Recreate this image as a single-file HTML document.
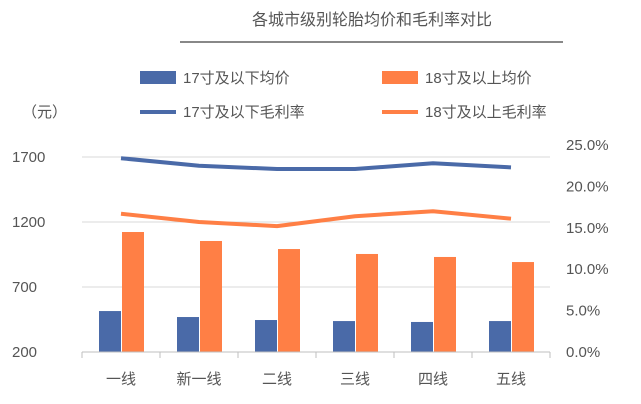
<!DOCTYPE html>
<html><head><meta charset="utf-8"><style>
html,body{margin:0;padding:0;background:#fff;}
svg{display:block;font-family:"Liberation Sans","Noto Sans CJK SC",sans-serif;}
</style></head><body>
<svg id="c" width="641" height="404" viewBox="0 0 641 404">
<rect width="641" height="404" fill="#fff"/>
<text x="372" y="25" text-anchor="middle" font-size="16" fill="#555">各城市级别轮胎均价和毛利率对比</text>
<line x1="180" y1="42" x2="563" y2="42" stroke="#888" stroke-width="2"/>
<g>
<rect x="140" y="71" width="36" height="13" fill="#4a6aa8"/>
<text x="183" y="83" font-size="15" fill="#555">17寸及以下均价</text>
<rect x="382" y="71" width="36" height="13" fill="#ff7f45"/>
<text x="425" y="83" font-size="15" fill="#555">18寸及以上均价</text>
<line x1="140" y1="112" x2="176" y2="112" stroke="#4a6aa8" stroke-width="4"/>
<text x="183" y="117" font-size="15" fill="#555">17寸及以下毛利率</text>
<line x1="382" y1="112" x2="418" y2="112" stroke="#ff7f45" stroke-width="4"/>
<text x="425" y="117" font-size="15" fill="#555">18寸及以上毛利率</text>
</g>
<text x="22" y="117" font-size="15" fill="#555">（元）</text>
<g id="grid"></g><g id="bars"></g><g id="lines"></g><g id="axes"></g>
</svg>
<script>
const categories=["一线","新一线","二线","三线","四线","五线"];
const price17=[515,469,446,438,431,438];
const price18=[1123,1054,992,954,931,892];
const margin17=[23.4,22.5,22.1,22.1,22.8,22.3];
const margin18=[16.7,15.7,15.2,16.4,17.0,16.1];
const leftTicks=[200,700,1200,1700];
const rightTicks=[0,5,10,15,20,25];
const NS="http://www.w3.org/2000/svg";
const x0=82,x1=550,yB=352;
const bw=(x1-x0)/categories.length;
const yL=v=>yB-(v-200)*0.13;
const yR=v=>yB-v*8.28;
const xc=i=>x0+bw*(i+0.5);
function mk(p,t,a){const e=document.createElementNS(NS,t);for(const k in a)e.setAttribute(k,a[k]);document.getElementById(p).appendChild(e);return e;}
leftTicks.forEach(v=>{
 const l=mk("grid","line",{x1:x0,x2:x1,y1:yL(v),y2:yL(v),stroke:"#d9d9d9","stroke-width":1});
 
 
 const t=mk("axes","text",{x:12,y:yL(v)+5,"font-size":15,fill:"#555"});t.textContent=v;
 
 
});
rightTicks.forEach(v=>{
 const t=mk("axes","text",{x:566,y:yR(v)+5,"font-size":15,fill:"#555"});t.textContent=v.toFixed(1)+"%";
 
 
});
const ax=mk("axes","line",{x1:x0,x2:x1,y1:yB,y2:yB,stroke:"#bfbfbf","stroke-width":1});


for(let i=0;i<=categories.length;i++){
 const tk=mk("axes","line",{x1:x0+bw*i,x2:x0+bw*i,y1:yB,y2:yB+6,stroke:"#bfbfbf"});
 
 
}
categories.forEach((c,i)=>{
 const t=mk("axes","text",{x:xc(i),y:384,"font-size":15,fill:"#555","text-anchor":"middle"});t.textContent=c;
 
 
 const b1=mk("bars","rect",{x:xc(i)-22,y:yL(price17[i]),width:22,height:yB-yL(price17[i]),fill:"#4a6aa8"});
 
 
 const b2=mk("bars","rect",{x:xc(i)+1,y:yL(price18[i]),width:22,height:yB-yL(price18[i]),fill:"#ff7f45"});
 
 
});
const p1=mk("lines","polyline",{points:margin17.map((v,i)=>xc(i)+","+yR(v)).join(" "),fill:"none",stroke:"#4a6aa8","stroke-width":4,"stroke-linejoin":"round"});


const p2=mk("lines","polyline",{points:margin18.map((v,i)=>xc(i)+","+yR(v)).join(" "),fill:"none",stroke:"#ff7f45","stroke-width":4,"stroke-linejoin":"round"});


</script>
</body></html>
